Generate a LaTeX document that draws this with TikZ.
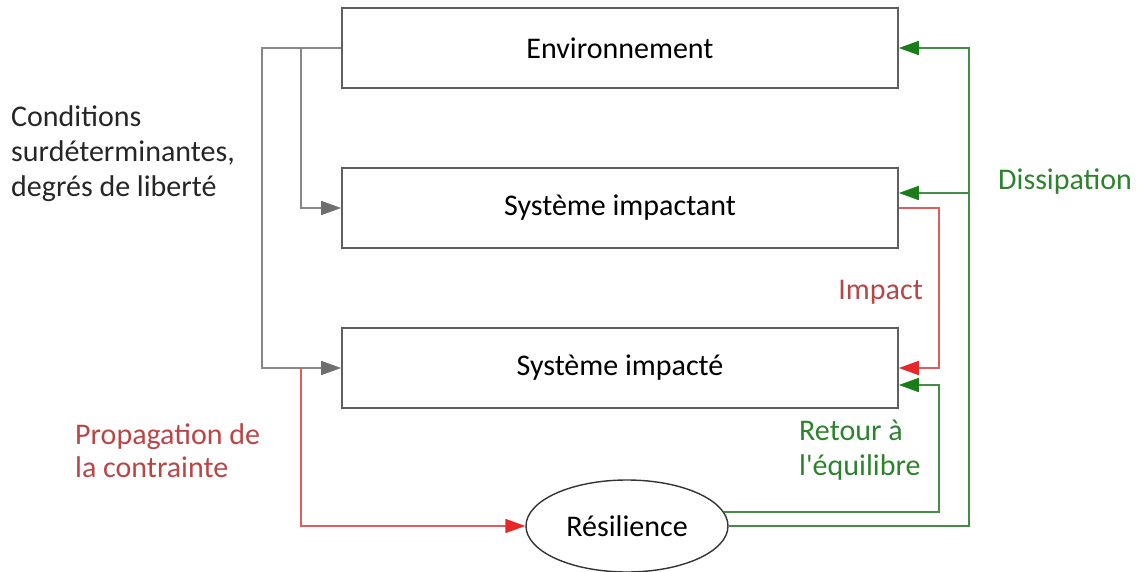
\documentclass[tikz,border=0pt]{standalone}
\usepackage{fontspec}
\setmainfont{Carlito}
\usepackage{tikz}
\usetikzlibrary{positioning}
\usetikzlibrary{arrows.meta,shapes}
\usetikzlibrary{calc}
\definecolor{boxgray}{RGB}{95,95,95}
\definecolor{linegray}{RGB}{135,135,135}
\definecolor{tipgray}{RGB}{110,110,110}
\definecolor{linered}{RGB}{220,95,95}
\definecolor{tipred}{RGB}{230,40,40}
\definecolor{textred}{RGB}{185,70,70}
\definecolor{linegreen}{RGB}{70,140,70}
\definecolor{tipgreen}{RGB}{25,125,25}
\definecolor{textgreen}{RGB}{45,130,45}
\tikzstyle{sysbox}=[rectangle,draw=boxgray,line width=1.6pt,minimum width=556pt,minimum height=80pt,inner sep=0pt,font=\fontsize{30}{34}\selectfont]
\tikzstyle{resbox}=[ellipse,draw=black!80,line width=1.4pt,minimum width=202pt,minimum height=92pt,inner sep=0pt,font=\fontsize{30}{34}\selectfont]
\tikzstyle{grayedge} = [draw=linegray,line width=1.7pt,-{Triangle[length=20pt,width=14pt,color=tipgray]}]
\tikzstyle{rededge} = [draw=linered,line width=1.7pt,-{Triangle[length=20pt,width=14pt,color=tipred]}]
\tikzstyle{greenedge} = [draw=linegreen,line width=1.7pt,-{Triangle[length=20pt,width=14pt,color=tipgreen]}]
\tikzstyle{blacktext} = [align=left,inner sep=0pt,text=black!85,font=\fontsize{30}{35}\selectfont]
\tikzstyle{redtext} = [align=left,inner sep=0pt,text=textred,font=\fontsize{30}{33}\selectfont]
\tikzstyle{greentext} = [align=left,inner sep=0pt,text=textgreen,font=\fontsize{30}{35}\selectfont]

\begin{document}
\begin{tikzpicture}[x=1pt,y=-1pt]
    \useasboundingbox (0,0) rectangle (1146,572);
    % First we draw the three systems
    \foreach \pos/\name/\txt in {{(620,48)/env/Environnement}, {(620,208)/imp/Système impactant}, {(620,368)/impd/Système impacté}}
            \node[sysbox] (\name) at \pos {\txt};
    \node[resbox] (res) at (627,526) {Résilience};

    % corners of the connectors
    \coordinate (cl) at (262,368);
    \coordinate (cb) at (301,48);
    \coordinate (dc) at (969,193);

    % gray: conditions
    \path[grayedge] (env.west) -| (cl) -- (impd.west);
    \path[grayedge] (cb) |- (imp.west);
    % red: impact and propagation
    \path[rededge] (cb |- impd.west) |- (res.west);
    \path[rededge] (imp.east) -| ($(impd.east)+(40,0)$) -- (impd.east);
    % green: return and dissipation
    \path[greenedge] (res.8) -| ($(impd.east)+(40,17)$) -- ($(impd.east)+(0,17)$);
    \path[greenedge] (res.east) -| (dc) |- (env.east);
    \path[greenedge] (dc) -- ($(imp.east)+(0,-15)$);

    % labels
    \node[blacktext,anchor=west] (cond) at (11,154) {Conditions\\surdéterminantes,\\degrés de liberté};
    \node[redtext,anchor=west] (prop) at (75,451) {Propagation de\\la contrainte};
    \node[redtext,anchor=east] (impact) at (923,292) {Impact};
    \node[greentext,anchor=west] (diss) at (998,182) {Dissipation};
    \node[greentext,anchor=west] (ret) at (799,450) {Retour à\\l\textquotesingle équilibre};
\end{tikzpicture}
\end{document}
